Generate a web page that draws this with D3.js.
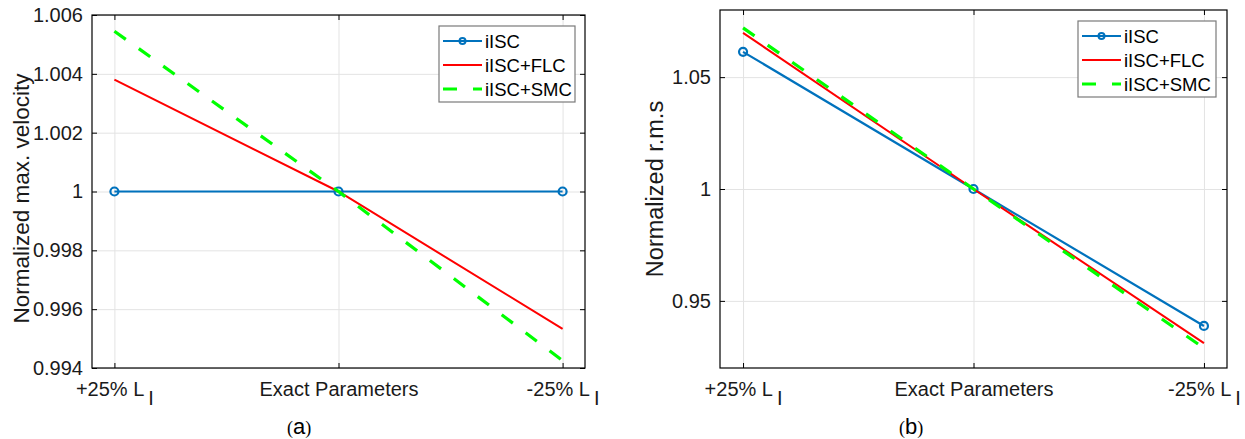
<!DOCTYPE html>
<html>
<head>
<meta charset="utf-8">
<script src="https://cdn.jsdelivr.net/npm/d3@7"></script>
<style>
  body { margin: 0; background: #fff; }
  svg { display: block; font-family: "Liberation Sans", Arial, sans-serif; }
  .grid line { stroke: #e3e3e3; stroke-width: 1; }
  .grid path { display: none; }
  .ax path { display: none; }
  .ax line { stroke: #000; }
  .ax text { font-size: 20px; fill: #1a1a1a; }
</style>
</head>
<body>
<svg id="chart" width="1245" height="439"></svg>
<script>
// categories along x
const categories = ["+25% L", "Exact Parameters", "-25% L"];
const subscripts = ["I", "", "I"];
const seriesNames = ["iISC", "iISC+FLC", "iISC+SMC"];

// (a) normalized max. velocity
const velISC = [1, 1, 1];
const velFLC = [1.0038, 1, 0.99533];
const velSMC = [1.00545, 1, 0.99425];
const velTicks = [0.994, 0.996, 0.998, 1, 1.002, 1.004, 1.006];
const velTickLabels = ["0.994", "0.996", "0.998", "1", "1.002", "1.004", "1.006"];

// (b) normalized r.m.s
const rmsISC = [1.0613, 1, 0.9388];
const rmsFLC = [1.0698, 1, 0.9311];
const rmsSMC = [1.0720, 1, 0.9289];
const rmsTicks = [0.95, 1, 1.05];
const rmsTickLabels = ["0.95", "1", "1.05"];

const svg = d3.select("#chart");

const styles = [
  { color: "#0072BD", width: 2.2, dash: null, marker: true },
  { color: "#FF0000", width: 2, dash: null, marker: false },
  { color: "#00FF00", width: 3.2, dash: "14,16", marker: false }
];

function drawPanel(cfg) {
  const w = cfg.x1 - cfg.x0, h = cfg.y1 - cfg.y0;
  const g = svg.append("g").attr("transform", "translate(" + cfg.x0 + "," + cfg.y0 + ")");

  const x = d3.scaleLinear().domain([-0.1, 2.1]).range([0, w]);
  const y = d3.scaleLinear().domain(cfg.yDomain).range([h, 0]);
  const idx = d3.range(categories.length);

  // grid
  g.append("g").attr("class", "grid")
    .call(d3.axisLeft(y).tickValues(cfg.ticks).tickSize(-w).tickFormat(""));
  g.append("g").attr("class", "grid")
    .attr("transform", "translate(0," + h + ")")
    .call(d3.axisBottom(x).tickValues(idx).tickSize(h).tickFormat(""))
    .selectAll("line").attr("y2", -h);

  // series
  const line = d3.line().x((d, i) => x(i)).y(d => y(d));
  cfg.series.forEach((s, k) => {
    const st = styles[k];
    g.append("path").datum(s)
      .attr("fill", "none")
      .attr("stroke", st.color)
      .attr("stroke-width", st.width)
      .attr("stroke-dasharray", st.dash)
      .attr("d", line);
    if (st.marker) {
      g.selectAll(".mk" + k).data(s).enter().append("circle")
        .attr("cx", (d, i) => x(i)).attr("cy", d => y(d))
        .attr("r", 4).attr("fill", "none")
        .attr("stroke", st.color).attr("stroke-width", 2.2);
    }
  });

  // box
  g.append("rect").attr("width", w).attr("height", h)
    .attr("fill", "none").attr("stroke", "#000").attr("stroke-width", 1.2);

  // axes with inward ticks
  g.append("g").attr("class", "ax")
    .call(d3.axisLeft(y).tickValues(cfg.ticks).tickSize(-5).tickPadding(9)
      .tickFormat((d, i) => cfg.tickLabels[i]));
  g.append("g").attr("class", "ax").attr("transform", "translate(" + w + ",0)")
    .call(d3.axisRight(y).tickValues(cfg.ticks).tickSize(-5).tickFormat(""));
  g.append("g").attr("class", "ax").call(d3.axisTop(x).tickValues(idx).tickSize(-5).tickFormat(""));
  const xa = g.append("g").attr("class", "ax").attr("transform", "translate(0," + h + ")")
    .call(d3.axisBottom(x).tickValues(idx).tickSize(-5).tickPadding(12).tickFormat(""));
  xa.selectAll(".tick text").remove();
  xa.selectAll(".tick").each(function (d) {
    const t = d3.select(this).append("text")
      .attr("y", 28).attr("text-anchor", "middle").attr("fill", "#1a1a1a");
    t.append("tspan").text(categories[d]);
    if (subscripts[d]) t.append("tspan").attr("dx", 4).attr("dy", 9).text(subscripts[d]);
  });

  // y label
  svg.append("text")
    .attr("transform", "translate(" + cfg.ylabX + "," + (cfg.y0 + h / 2 + cfg.ylabShift) + ") rotate(-90)")
    .attr("text-anchor", "middle").attr("font-size", cfg.ylabSize).attr("fill", "#1a1a1a")
    .text(cfg.ylabel);

  // panel caption
  const cap = svg.append("text").attr("x", cfg.capX).attr("y", 434).attr("text-anchor", "middle");
  cap.append("tspan").attr("font-family", "Liberation Serif, serif").attr("font-size", 18).text("(");
  cap.append("tspan").attr("font-size", 22).text(cfg.cap);
  cap.append("tspan").attr("font-family", "Liberation Serif, serif").attr("font-size", 18).text(")");

  // legend
  const lg = svg.append("g").attr("transform", "translate(" + cfg.lgX + "," + cfg.lgY + ")");
  lg.append("rect").attr("width", cfg.lgW).attr("height", 76)
    .attr("fill", "#fff").attr("stroke", "#7a7a7a").attr("stroke-width", 1.2);
  seriesNames.forEach((name, k) => {
    const st = styles[k];
    const yy = 15 + k * 24;
    lg.append("line").attr("x1", 4).attr("x2", 43).attr("y1", yy).attr("y2", yy)
      .attr("stroke", st.color).attr("stroke-width", st.width)
      .attr("stroke-dasharray", st.dash);
    if (st.marker) {
      lg.append("circle").attr("cx", 23.5).attr("cy", yy).attr("r", 3)
        .attr("fill", "none").attr("stroke", st.color).attr("stroke-width", 2);
    }
    lg.append("text").attr("x", 46).attr("y", yy + 6.5)
      .attr("font-size", 18.5).attr("fill", "#000").text(name);
  });
}

drawPanel({
  x0: 92, x1: 585, y0: 15, y1: 368,
  yDomain: [0.994, 1.006], ticks: velTicks, tickLabels: velTickLabels,
  series: [velISC, velFLC, velSMC],
  ylabel: "Normalized max. velocity", ylabX: 29, ylabSize: 22.5, ylabShift: 7,
  cap: "a", capX: 299,
  lgX: 439, lgY: 26, lgW: 136
});

drawPanel({
  x0: 720, x1: 1227, y0: 10, y1: 368,
  yDomain: [0.92, 1.08], ticks: rmsTicks, tickLabels: rmsTickLabels,
  series: [rmsISC, rmsFLC, rmsSMC],
  ylabel: "Normalized r.m.s", ylabX: 663, ylabSize: 23.5, ylabShift: 0,
  cap: "b", capX: 911,
  lgX: 1078, lgY: 21, lgW: 138
});
</script>
</body>
</html>
